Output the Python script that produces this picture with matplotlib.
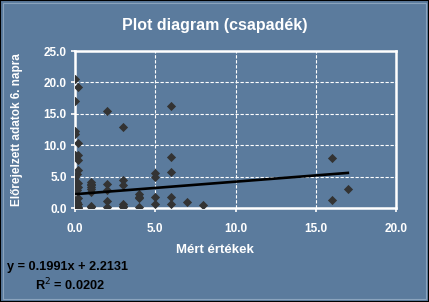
import matplotlib.pyplot as plt
from matplotlib.patches import Rectangle

# measured values (x) and forecast for day 6 (y)
x_zero = [0, 0.2, 0, 0, 0, 0.2, 0, 0.2, 0.2, 0.2, 0.1, 0, 0, 0.2, 0,
          0.2, 0, 0.1, 0.2, 0, 0.1, 0, 0.2, 0, 0.1, 0.2, 0, 0.1, 0.2, 0]
y_zero = [20.6, 19.2, 17.0, 12.3, 11.8, 10.3, 8.4, 8.4, 7.6, 6.0, 5.5, 5.0,
          4.3, 4.0, 3.6, 3.3, 3.0, 2.8, 1.6, 1.3, 1.0, 0.8, 0.6, 0.5, 0.3,
          0.2, 0.1, 0.0, 0.0, 0.0]
x_rest = [1, 1, 1, 1, 1, 1, 1, 1,
          2, 2, 2, 2, 2,
          3, 3, 3, 3, 3, 3,
          4, 4, 4, 4,
          5, 5, 5, 5,
          6, 6, 6, 6, 6,
          7, 8, 16, 16, 17]
y_rest = [4.2, 3.9, 3.6, 3.3, 3.0, 2.5, 0.3, 0.1,
          15.4, 3.9, 2.8, 1.2, 0.2,
          12.9, 4.5, 3.7, 0.7, 0.4, 0.2,
          2.2, 1.8, 1.6, 0.1,
          5.6, 4.9, 1.7, 0.7,
          16.2, 8.1, 5.7, 1.7, 0.7,
          1.0, 0.5, 7.9, 1.3, 3.0]
x_vals = x_zero + x_rest
y_vals = y_zero + y_rest

slope = 0.1991
intercept = 2.2131
r_squared = 0.0202

x_ticks = [0, 5, 10, 15, 20]
y_ticks = [0, 5, 10, 15, 20, 25]

bg = "#5b7b9d"


def main():
    fig = plt.figure(figsize=(4.29, 3.02), dpi=100, facecolor=bg)
    fig.patches.append(Rectangle((0, 0), 1, 1, transform=fig.transFigure,
                                 fill=False, edgecolor="black", linewidth=1.5))
    fig.patches.append(Rectangle((0.006, 0.009), 0.988, 0.982,
                                 transform=fig.transFigure, fill=False,
                                 edgecolor="#8aa3bd", linewidth=0.8))

    ax = fig.add_axes([0.175, 0.311, 0.748, 0.52])
    ax.set_facecolor(bg)

    ax.scatter(x_vals, y_vals, marker="D", s=22, color="#333333", zorder=3,
               linewidths=0)
    xs = [min(x_vals), max(x_vals)]
    ax.plot(xs, [slope * v + intercept for v in xs], color="black",
            linewidth=1.9, zorder=4)

    ax.set_xlim(0, 20)
    ax.set_ylim(0, 25)
    ax.set_xticks(x_ticks)
    ax.set_yticks(y_ticks)
    ax.set_xticklabels([f"{v:.1f}" for v in x_ticks])
    ax.set_yticklabels([f"{v:.1f}" for v in y_ticks])
    ax.grid(True, color="white", linestyle=(0, (3, 1.5)), linewidth=0.8)
    ax.set_axisbelow(True)
    for s in ax.spines.values():
        s.set_color("white")
        s.set_linewidth(1.8)
    font = dict(family="Liberation Sans", weight="bold", color="white")
    ax.tick_params(axis="both", colors="white", length=3, width=1.2,
                   labelsize=8.5)
    ax.tick_params(axis="x", pad=8)
    ax.tick_params(axis="y", pad=3)
    for lab in ax.get_xticklabels() + ax.get_yticklabels():
        lab.set_fontfamily("Liberation Sans")
        lab.set_fontweight("bold")

    fig.text(0.5, 0.915, "Plot diagram (csapadék)", ha="center", va="center",
             fontsize=11.5, **font)
    fig.text(0.5, 0.172, "Mért értékek", ha="center", va="center",
             fontsize=9.5, **font)
    fig.text(0.04, 0.57, "Előrejelzett adatok 6. napra", ha="center",
             va="center", rotation=90, fontsize=8.5, **font)
    fig.text(0.016, 0.115, f"y = {slope}x + {intercept}", ha="left",
             va="center", fontsize=9.2, family="Liberation Sans",
             weight="bold", color="black")
    fig.text(0.082, 0.055, f"R$^2$ = {r_squared}", ha="left", va="center",
             fontsize=9.2, family="Liberation Sans", weight="bold",
             color="black")

    fig.savefig("out.png", dpi=100, facecolor=bg)


if __name__ == "__main__":
    main()
